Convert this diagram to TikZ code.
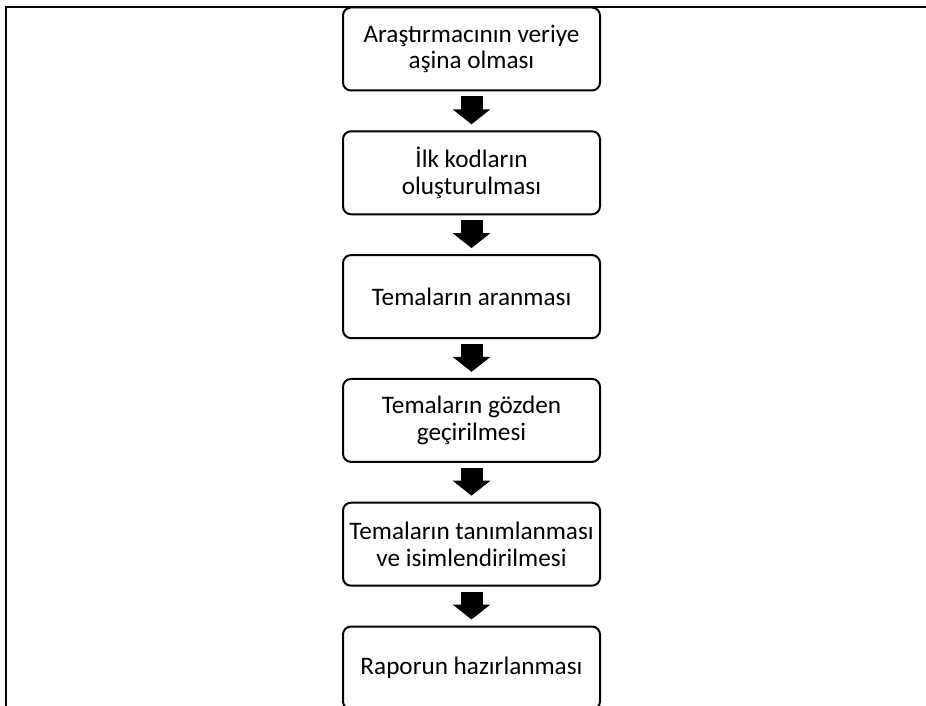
\documentclass[tikz,border=0pt]{standalone}
\usepackage{fontspec}
\setmainfont{Carlito}
\usetikzlibrary{positioning,arrows.meta}

\tikzset{
  stage/.style={draw,line width=2pt,rounded corners=8pt,minimum width=257pt,
    minimum height=83pt,align=center,inner sep=2pt,
    font=\fontsize{25.2}{26.5}\selectfont},
  blockarrow/.style={line width=22pt,
    -{Triangle[length=15pt,width=37pt]},shorten <=5pt,shorten >=6pt},
}

\begin{document}
\begin{tikzpicture}[x=1pt,y=-1pt,node distance=123.8pt,on grid]
  \useasboundingbox (0,0) rectangle (926,706);
  \clip (0,0) rectangle (926,706);
  % frame
  \coordinate (frame_bl) at (6,706);
  \coordinate (frame_tr) at (926,7);
  \draw[line width=2pt] (frame_bl) |- (frame_tr);

  \path
  node[stage] (s_1) at (471.5,49) {Araştırmacının veriye\\aşina olması}
  node[stage] (s_2) [below=of s_1] {İlk kodların\\oluşturulması}
  node[stage] (s_3) [below=of s_2] {Temaların aranması}
  node[stage] (s_4) [below=of s_3] {Temaların gözden\\geçirilmesi}
  node[stage] (s_5) [below=of s_4] {Temaların tanımlanması\\ve isimlendirilmesi}
  node[stage] (s_6) [below=of s_5] {Raporun hazırlanması}
  ;
  \foreach \a/\b in {1/2,2/3,3/4,4/5,5/6}
    \draw[blockarrow] (s_\a.south) -- (s_\b.north);
\end{tikzpicture}
\end{document}
